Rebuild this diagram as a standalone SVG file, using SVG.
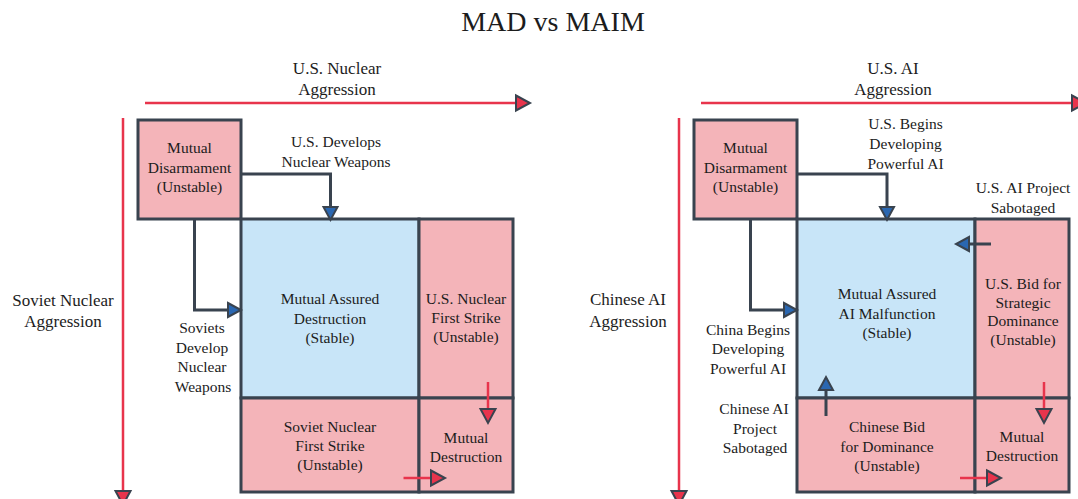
<svg xmlns="http://www.w3.org/2000/svg" width="1078" height="499" viewBox="0 0 1078 499">
  <style>
    text { font-family: "Liberation Serif", "DejaVu Serif", serif; fill: #1c1c1c; text-anchor: middle; }
    .title { font-size: 28px; }
    .axis-label { font-size: 17px; }
    .cell-text, .edge-label { font-size: 15.5px; }
    .unstable { fill: #f4b4b9; stroke: #39434f; stroke-width: 3; }
    .stable { fill: #c8e5f8; stroke: #39434f; stroke-width: 3; }
    .edge { fill: none; stroke: #39434f; stroke-width: 3; }
    .axis, .red-edge { fill: none; stroke: #e8344c; stroke-width: 2.5; }
  </style>
  <defs>
    <marker id="head-blue" markerUnits="userSpaceOnUse" markerWidth="16" markerHeight="16" refX="0" refY="7" orient="auto" overflow="visible">
      <path d="M0,0 L13,7 L0,14 Z" fill="#2a67b1" stroke="#39434f" stroke-width="2"/>
    </marker>
    <marker id="head-red" markerUnits="userSpaceOnUse" markerWidth="18" markerHeight="18" refX="0" refY="7.5" orient="auto" overflow="visible">
      <path d="M0,0 L14,7.5 L0,15 Z" fill="#e8344c" stroke="#39434f" stroke-width="2"/>
    </marker>
  </defs>

  <rect width="1078" height="499" fill="#ffffff"/>

  <text class="title" x="553" y="31">MAD vs MAIM</text>

  <!-- ===== MAD panel ===== -->
  <g id="mad-axes">
    <path class="axis" d="M145,103 H516" marker-end="url(#head-red)"/>
    <path class="axis" d="M123,118 V491" marker-end="url(#head-red)"/>
    <text class="axis-label" x="337" y="74">U.S. Nuclear</text>
    <text class="axis-label" x="337" y="95">Aggression</text>
    <text class="axis-label" x="63" y="306">Soviet Nuclear</text>
    <text class="axis-label" x="63" y="327">Aggression</text>
  </g>

  <g id="mad-disarmament">
    <rect class="unstable" x="138" y="120" width="103" height="99"/>
    <text class="cell-text" x="189.5" y="153">Mutual</text>
    <text class="cell-text" x="189.5" y="173">Disarmament</text>
    <text class="cell-text" x="189.5" y="192">(Unstable)</text>
  </g>

  <g id="mad-mutual-assured-destruction">
    <rect class="stable" x="241" y="219" width="178" height="179"/>
    <text class="cell-text" x="330" y="304">Mutual Assured</text>
    <text class="cell-text" x="330" y="324">Destruction</text>
    <text class="cell-text" x="330" y="343">(Stable)</text>
  </g>

  <g id="mad-us-first-strike">
    <rect class="unstable" x="419" y="219" width="94" height="179"/>
    <text class="cell-text" x="466" y="304">U.S. Nuclear</text>
    <text class="cell-text" x="466" y="323">First Strike</text>
    <text class="cell-text" x="466" y="342">(Unstable)</text>
  </g>

  <g id="mad-soviet-first-strike">
    <rect class="unstable" x="241" y="398" width="178" height="94"/>
    <text class="cell-text" x="330" y="432">Soviet Nuclear</text>
    <text class="cell-text" x="330" y="451">First Strike</text>
    <text class="cell-text" x="330" y="470">(Unstable)</text>
  </g>

  <g id="mad-mutual-destruction">
    <rect class="unstable" x="419" y="398" width="94" height="94"/>
    <text class="cell-text" x="466" y="443">Mutual</text>
    <text class="cell-text" x="466" y="462">Destruction</text>
  </g>

  <!-- ===== MAIM panel ===== -->
  <g id="maim-axes">
    <path class="axis" d="M701,103 H1072" marker-end="url(#head-red)"/>
    <path class="axis" d="M679,118 V491" marker-end="url(#head-red)"/>
    <text class="axis-label" x="893" y="74">U.S. AI</text>
    <text class="axis-label" x="893" y="95">Aggression</text>
    <text class="axis-label" x="628" y="305">Chinese AI</text>
    <text class="axis-label" x="628" y="327">Aggression</text>
  </g>

  <g id="maim-disarmament">
    <rect class="unstable" x="694" y="120" width="103" height="99"/>
    <text class="cell-text" x="745.5" y="153">Mutual</text>
    <text class="cell-text" x="745.5" y="173">Disarmament</text>
    <text class="cell-text" x="745.5" y="192">(Unstable)</text>
  </g>

  <g id="maim-mutual-assured-ai-malfunction">
    <rect class="stable" x="797" y="219" width="178" height="179"/>
    <text class="cell-text" x="887" y="299">Mutual Assured</text>
    <text class="cell-text" x="887" y="318.5">AI Malfunction</text>
    <text class="cell-text" x="887" y="337.5">(Stable)</text>
  </g>

  <g id="maim-us-bid">
    <rect class="unstable" x="975" y="219" width="94" height="179"/>
    <text class="cell-text" x="1023" y="288.5">U.S. Bid for</text>
    <text class="cell-text" x="1023" y="307.5">Strategic</text>
    <text class="cell-text" x="1023" y="326">Dominance</text>
    <text class="cell-text" x="1023" y="345">(Unstable)</text>
  </g>

  <g id="maim-chinese-bid">
    <rect class="unstable" x="797" y="398" width="178" height="94"/>
    <text class="cell-text" x="887" y="432">Chinese Bid</text>
    <text class="cell-text" x="887" y="451.5">for Dominance</text>
    <text class="cell-text" x="887" y="470.5">(Unstable)</text>
  </g>

  <g id="maim-mutual-destruction">
    <rect class="unstable" x="975" y="398" width="94" height="94"/>
    <text class="cell-text" x="1022" y="442">Mutual</text>
    <text class="cell-text" x="1022" y="461">Destruction</text>
  </g>

  <!-- ===== transitions ===== -->
  <g id="connectors">
    <!-- MAD -->
    <path class="edge" d="M241,174 H330.5 V207" marker-end="url(#head-blue)"/>
    <path class="edge" d="M194.5,219 V310 H228" marker-end="url(#head-blue)"/>
    <path class="red-edge" d="M488,382 V409" marker-end="url(#head-red)"/>
    <path class="red-edge" d="M403.5,478 H431" marker-end="url(#head-red)"/>
    <text class="edge-label" x="336" y="147">U.S. Develops</text>
    <text class="edge-label" x="336" y="167">Nuclear Weapons</text>
    <text class="edge-label" x="202" y="333">Soviets</text>
    <text class="edge-label" x="202" y="352.5">Develop</text>
    <text class="edge-label" x="202" y="372">Nuclear</text>
    <text class="edge-label" x="203" y="391.5">Weapons</text>

    <!-- MAIM -->
    <path class="edge" d="M797,174 H887 V207" marker-end="url(#head-blue)"/>
    <path class="edge" d="M750.5,219 V310 H784" marker-end="url(#head-blue)"/>
    <path class="edge" d="M991,244 H969" marker-end="url(#head-blue)"/>
    <path class="edge" d="M826,416 V390" marker-end="url(#head-blue)"/>
    <path class="red-edge" d="M1044,382 V409" marker-end="url(#head-red)"/>
    <path class="red-edge" d="M960,478 H987" marker-end="url(#head-red)"/>
    <text class="edge-label" x="905.5" y="129">U.S. Begins</text>
    <text class="edge-label" x="905.5" y="149">Developing</text>
    <text class="edge-label" x="905.5" y="168.5">Powerful AI</text>
    <text class="edge-label" x="1023" y="193">U.S. AI Project</text>
    <text class="edge-label" x="1023" y="212.5">Sabotaged</text>
    <text class="edge-label" x="748" y="335">China Begins</text>
    <text class="edge-label" x="748" y="354">Developing</text>
    <text class="edge-label" x="748" y="373.5">Powerful AI</text>
    <text class="edge-label" x="754" y="414">Chinese AI</text>
    <text class="edge-label" x="755" y="433.5">Project</text>
    <text class="edge-label" x="755" y="452.5">Sabotaged</text>
  </g>
</svg>
